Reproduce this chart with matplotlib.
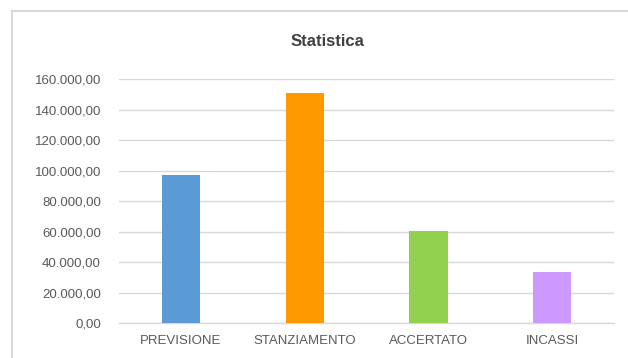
import matplotlib
matplotlib.use("Agg")
import matplotlib.pyplot as plt
from matplotlib.lines import Line2D
from matplotlib.ticker import FuncFormatter

categorie = ['PREVISIONE', 'STANZIAMENTO', 'ACCERTATO', 'INCASSI']
valori = [97000, 151000, 60300, 33500]
colori = ['#5B9BD5', '#FF9900', '#92D050', '#CC99FF']
tick_y = [0, 20000, 40000, 60000, 80000, 100000, 120000, 140000, 160000]

plt.rcParams['font.family'] = ['Liberation Sans', 'DejaVu Sans']

def formato_it(v, pos=None):
    # 160000 -> 160.000,00
    s = '{:,.2f}'.format(v)
    return s.replace(',', 'X').replace('.', ',').replace('X', '.')

fig = plt.figure(figsize=(6.28, 3.58), dpi=100)
ax = fig.add_axes([0.1895, 0.0964, 0.7885, 0.6826])

x = range(len(categorie))
ax.bar(x, valori, width=0.31, color=colori, zorder=3)

ax.set_xlim(-0.5, len(categorie) - 0.5)
ax.set_ylim(0, 160000)
ax.set_yticks(tick_y)
ax.yaxis.set_major_formatter(FuncFormatter(formato_it))
ax.set_xticks(list(x))
ax.set_xticklabels(categorie)

ax.grid(axis='y', color='#D9D9D9', linewidth=1.0, zorder=0)
for lato in ['top', 'right', 'left']:
    ax.spines[lato].set_visible(False)
ax.spines['bottom'].set_color('#D9D9D9')
ax.spines['bottom'].set_linewidth(1.0)
ax.tick_params(axis='both', length=0, labelsize=9.5, colors='#595959')
ax.tick_params(axis='y', pad=13)
ax.tick_params(axis='x', pad=8)

fig.text(0.522, 0.883, 'Statistica', ha='center', va='center',
         fontsize=12, fontweight='bold', color='#404040')

# cornice del grafico
y_top = 1 - 10.5 / 358
x_left = 12 / 628
fig.add_artist(Line2D([x_left, 1], [y_top, y_top], transform=fig.transFigure,
                      color='#D9D9D9', linewidth=1.5))
fig.add_artist(Line2D([x_left, x_left], [0, y_top], transform=fig.transFigure,
                      color='#D9D9D9', linewidth=1.5))

fig.savefig('out.png', dpi=100)
